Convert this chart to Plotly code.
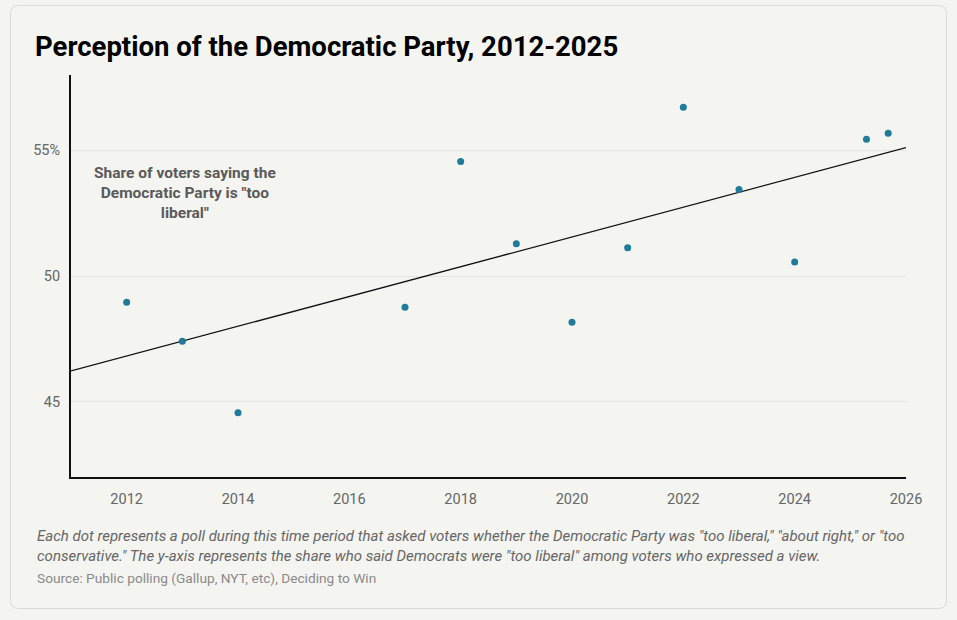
"""Scatter of polls on whether the Democratic Party is "too liberal", with a linear trend."""

import numpy as np
import plotly.graph_objects as go

# poll dates (fractional years) and share saying "too liberal" (%)
poll_year = [2012.0, 2013.0, 2014.0, 2017.0, 2018.0, 2019.0, 2020.0, 2021.0,
             2022.0, 2023.0, 2024.0, 2025.29, 2025.68]
too_liberal = [48.96, 47.4, 44.56, 48.76, 54.56, 51.28, 48.16, 51.12,
               56.72, 53.44, 50.56, 55.44, 55.68]

x_ticks = [2012, 2014, 2016, 2018, 2020, 2022, 2024, 2026]
y_ticks = [45, 50, 55]
y_tick_labels = ["45", "50", "55%"]

x_range = [2011, 2026]
y_range = [42, 58]

BG = "#f4f4f1"
DOT = "#1f7b9a"
FONT = "Roboto"

slope, intercept = np.polyfit(poll_year, too_liberal, 1)
trend_x = np.array(x_range, dtype=float)
trend_y = slope * trend_x + intercept

fig = go.Figure()
fig.add_trace(
    go.Scatter(
        x=trend_x,
        y=trend_y,
        mode="lines",
        line=dict(color="#111111", width=1.3),
        hoverinfo="skip",
        showlegend=False,
    )
)
fig.add_trace(
    go.Scatter(
        x=poll_year,
        y=too_liberal,
        mode="markers",
        marker=dict(color=DOT, size=7),
        showlegend=False,
    )
)

W, H = 957, 620
L, R, T, B = 71, 51, 75, 143
pw, ph = W - L - R, H - T - B


def px(xp):
    return (xp - L) / pw


def py(yp):
    return (H - B - yp) / ph


# rounded card outline drawn in paper coordinates
x0, x1, y0, y1, r = 10.5, 946.5, 5.5, 608.5, 8
card_path = (
    f"M {px(x0 + r)},{py(y0)} L {px(x1 - r)},{py(y0)} "
    f"Q {px(x1)},{py(y0)} {px(x1)},{py(y0 + r)} "
    f"L {px(x1)},{py(y1 - r)} Q {px(x1)},{py(y1)} {px(x1 - r)},{py(y1)} "
    f"L {px(x0 + r)},{py(y1)} Q {px(x0)},{py(y1)} {px(x0)},{py(y1 - r)} "
    f"L {px(x0)},{py(y0 + r)} Q {px(x0)},{py(y0)} {px(x0 + r)},{py(y0)} Z"
)

note = (
    'Each dot represents a poll during this time period that asked voters whether the '
    'Democratic Party was "too liberal," "about right," or "too<br>conservative." '
    'The y-axis represents the share who said Democrats were "too liberal" among voters '
    'who expressed a view.'
)

fig.update_layout(
    width=W,
    height=H,
    margin=dict(l=L, r=R, t=T, b=B),
    paper_bgcolor=BG,
    plot_bgcolor=BG,
    font=dict(family=FONT, color="#666666", size=14),
    title=dict(
        text="<b>Perception of the Democratic Party, 2012-2025</b>",
        x=35 / W, xref="container", xanchor="left",
        y=1 - 46 / H, yref="container", yanchor="middle",
        font=dict(family=FONT, size=27.5, color="#000000"),
    ),
    shapes=[
        dict(type="path", path=card_path, xref="paper", yref="paper",
             line=dict(color="#dadad6", width=1), fillcolor="rgba(0,0,0,0)", layer="below"),
    ],
    annotations=[
        dict(
            text='<b>Share of voters saying the<br>Democratic Party is "too<br>liberal"</b>',
            x=2013.05, y=53.3, xref="x", yref="y",
            showarrow=False, align="center",
            font=dict(family=FONT, size=15.5, color="#5a5a5a"),
        ),
        dict(
            text=f"<i>{note}</i>",
            x=px(35), y=py(546), xref="paper", yref="paper",
            xanchor="left", yanchor="middle", showarrow=False, align="left",
            font=dict(family=FONT, size=15, color="#666666"),
        ),
        dict(
            text="Source: Public polling (Gallup, NYT, etc), Deciding to Win",
            x=px(35), y=py(578), xref="paper", yref="paper",
            xanchor="left", yanchor="middle", showarrow=False, align="left",
            font=dict(family=FONT, size=13.7, color="#8a8a8a"),
        ),
    ],
)

fig.update_xaxes(
    range=x_range,
    tickvals=x_ticks,
    showgrid=False,
    zeroline=False,
    showline=True,
    linecolor="#111111",
    linewidth=1.5,
    ticks="",
    ticklabelstandoff=8,
    tickfont=dict(size=14.5, color="#666666"),
)
fig.update_yaxes(
    range=y_range,
    tickvals=y_ticks,
    ticktext=y_tick_labels,
    showgrid=True,
    gridcolor="#e4e4e0",
    gridwidth=1,
    zeroline=False,
    showline=True,
    linecolor="#111111",
    linewidth=2,
    ticks="",
    ticklabelstandoff=6,
    tickfont=dict(size=14.5, color="#666666"),
)

# drop the browser's default body margin so the card sits flush with the window
fig.write_html(
    "out.html",
    config={"displayModeBar": False},
    post_script=f"document.body.style.margin='0';document.body.style.background='{BG}';",
)
